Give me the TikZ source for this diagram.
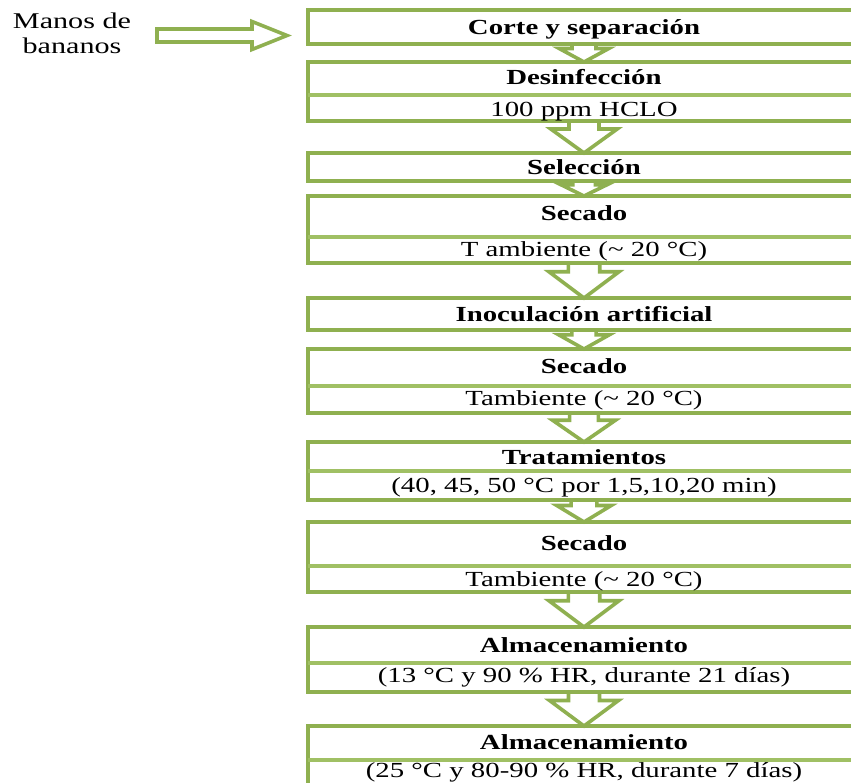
\documentclass[tikz,border=0pt]{standalone}
\usepackage{fontspec}
\setmainfont[FakeStretch=1.34]{Liberation Serif}
\usetikzlibrary{calc}
\definecolor{lg}{RGB}{143,176,80}
\definecolor{lgl}{RGB}{160,192,100}
\newcommand\dnarrow[2]{%
  \draw[blk] let \p1=(#1.south), \p2=(#2.north), \n1={\y1-\y2}, \n2={0.75*\n1},
    \n3={14pt+0.6*\n1}, \n4={8pt+0.22*\n1} in
  (\x1-\n4,\y1) -- (\x1-\n4,\y2+\n2) -- (\x1-\n3,\y2+\n2) -- (\x1,\y2)
  -- (\x1+\n3,\y2+\n2) -- (\x1+\n4,\y2+\n2) -- (\x1+\n4,\y1);}
\begin{document}
\begin{tikzpicture}[x=1pt,y=-1pt,
  box/.style={draw=lg,line width=3.6pt,fill=white,minimum width=552pt,inner sep=0pt,outer sep=0pt,anchor=north},
  divl/.style={draw=lgl,line width=3.2pt},
  hd/.style={font=\fontsize{21.5}{24}\selectfont\bfseries,anchor=base,inner sep=0pt},
  tx/.style={font=\fontsize{21.5}{24}\selectfont,anchor=base,inner sep=0pt},
  lt/.style={font=\fontsize{22.5}{25}\selectfont,anchor=base,inner sep=0pt},
  blk/.style={draw=lg,line width=3.6pt,line join=miter}]
\useasboundingbox (0,0) rectangle (851,782);
\clip (0,0) rectangle (851,782);
\fill[white] (0,0) rectangle (851,782);

% boxes
\node[box, minimum height=34pt] (b1) at (584,10) {};
\node[box, minimum height=59pt] (b2) at (584,62) {};
\node[box, minimum height=28pt] (b3) at (584,153) {};
\node[box, minimum height=67pt] (b4) at (584,196) {};
\node[box, minimum height=32pt] (b5) at (584,298) {};
\node[box, minimum height=64pt] (b6) at (584,349) {};
\node[box, minimum height=58pt] (b7) at (584,442) {};
\node[box, minimum height=70pt] (b8) at (584,522) {};
\node[box, minimum height=65pt] (b9) at (584,627) {};
\node[box, minimum height=80pt] (b10) at (584,726) {};

% dividers
\draw[divl] (b2.west |- 0,95) -- (b2.east |- 0,95);
\draw[divl] (b4.west |- 0,237) -- (b4.east |- 0,237);
\draw[divl] (b6.west |- 0,386) -- (b6.east |- 0,386);
\draw[divl] (b7.west |- 0,471) -- (b7.east |- 0,471);
\draw[divl] (b8.west |- 0,566) -- (b8.east |- 0,566);
\draw[divl] (b9.west |- 0,663) -- (b9.east |- 0,663);
\draw[divl] (b10.west |- 0,760) -- (b10.east |- 0,760);

% texts
\node[hd] (t1) at (584,34) {Corte y separación};
\node[hd] (t2a) at (584,84) {Desinfección};
\node[tx] (t2b) at (584,116) {100 ppm HCLO};
\node[hd] (t3) at (584,174) {Selección};
\node[hd] (t4a) at (584,220) {Secado};
\node[tx] (t4b) at (584,256) {T ambiente (\textasciitilde{} 20 °C)};
\node[hd] (t5) at (584,321) {Inoculación artificial};
\node[hd] (t6a) at (584,373) {Secado};
\node[tx] (t6b) at (584,405) {Tambiente (\textasciitilde{} 20 °C)};
\node[hd] (t7a) at (584,464) {Tratamientos};
\node[tx] (t7b) at (584,492) {(40, 45, 50 °C por 1,5,10,20 min)};
\node[hd] (t8a) at (584,550) {Secado};
\node[tx] (t8b) at (584,586) {Tambiente (\textasciitilde{} 20 °C)};
\node[hd] (t9a) at (584,652) {Almacenamiento};
\node[tx] (t9b) at (584,682) {(13 °C y 90 \% HR, durante 21 días)};
\node[hd] (t10a) at (584,749) {Almacenamiento};
\node[tx] (t10b) at (584,777) {(25 °C y 80-90 \% HR, durante 7 días)};

% down arrows
\dnarrow{b1}{b2}
\dnarrow{b2}{b3}
\dnarrow{b3}{b4}
\dnarrow{b4}{b5}
\dnarrow{b5}{b6}
\dnarrow{b6}{b7}
\dnarrow{b7}{b8}
\dnarrow{b8}{b9}
\dnarrow{b9}{b10}

% input
\node[lt] (m1) at (72,28) {Manos de};
\node[lt] (m2) at (72,53) {bananos};
\coordinate (arS) at (157,35.5);
\coordinate (arE) at (287,35.5);
\draw[blk] let \p1=(arS), \p2=(arE) in
  (\x1,\y1+6.5pt) -- (\x2-35pt,\y1+6.5pt) -- (\x2-35pt,\y1+14pt) -- (\x2,\y1)
  -- (\x2-35pt,\y1-14pt) -- (\x2-35pt,\y1-6.5pt) -- (\x1,\y1-6.5pt) -- cycle;
\end{tikzpicture}
\end{document}
